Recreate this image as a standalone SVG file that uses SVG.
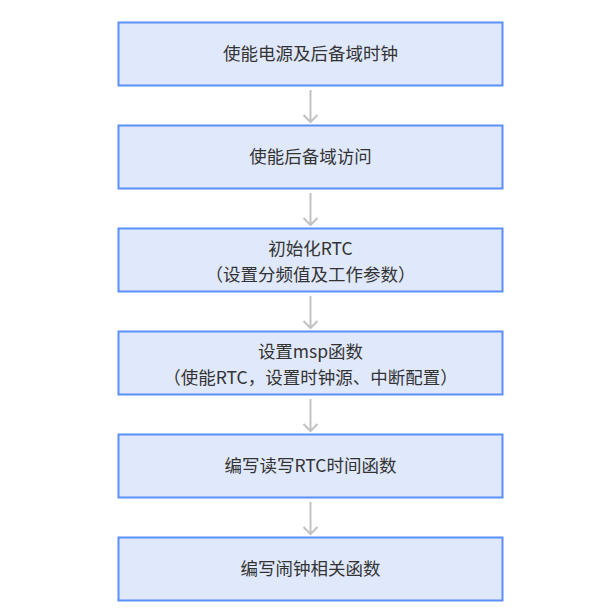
<svg xmlns="http://www.w3.org/2000/svg" width="610" height="610" viewBox="0 0 610 610">
<style>
.box{fill:#e0e8fc;stroke:#5b8ff9;stroke-width:2}
.t{font-family:"Noto Sans CJK SC","Noto Sans",sans-serif;font-size:17.5px;fill:#333;text-anchor:middle}
.c{stroke:#c2c2c2;stroke-width:2;fill:none}
</style>
<rect width="610" height="610" fill="#fff"/>
<g id="connectors">
<path class="c" d="M310.5,90 V122 M303.5,115 L310.5,122 L317.5,115"/>
<path class="c" d="M310.5,193 V225 M303.5,218 L310.5,225 L317.5,218"/>
<path class="c" d="M310.5,296 V328 M303.5,321 L310.5,328 L317.5,321"/>
<path class="c" d="M310.5,399 V431 M303.5,424 L310.5,431 L317.5,424"/>
<path class="c" d="M310.5,502 V534 M303.5,527 L310.5,534 L317.5,527"/>
</g>
<g id="n1"><rect class="box" x="118.5" y="22.5" width="384" height="63"/><text class="t" x="310.5" y="60">使能电源及后备域时钟</text></g>
<g id="n2"><rect class="box" x="118.5" y="125.5" width="384" height="63"/><text class="t" x="310.5" y="163">使能后备域访问</text></g>
<g id="n3"><rect class="box" x="118.5" y="228.5" width="384" height="63"/><text class="t" x="310.5" y="255">初始化RTC</text><text class="t" x="310.5" y="281">（设置分频值及工作参数）</text></g>
<g id="n4"><rect class="box" x="118.5" y="331.5" width="384" height="63"/><text class="t" x="310.5" y="358">设置msp函数</text><text class="t" x="310.5" y="384">（使能RTC，设置时钟源、中断配置）</text></g>
<g id="n5"><rect class="box" x="118.5" y="434.5" width="384" height="63"/><text class="t" x="310.5" y="472">编写读写RTC时间函数</text></g>
<g id="n6"><rect class="box" x="118.5" y="537.5" width="384" height="63"/><text class="t" x="310.5" y="575">编写闹钟相关函数</text></g>
</svg>
